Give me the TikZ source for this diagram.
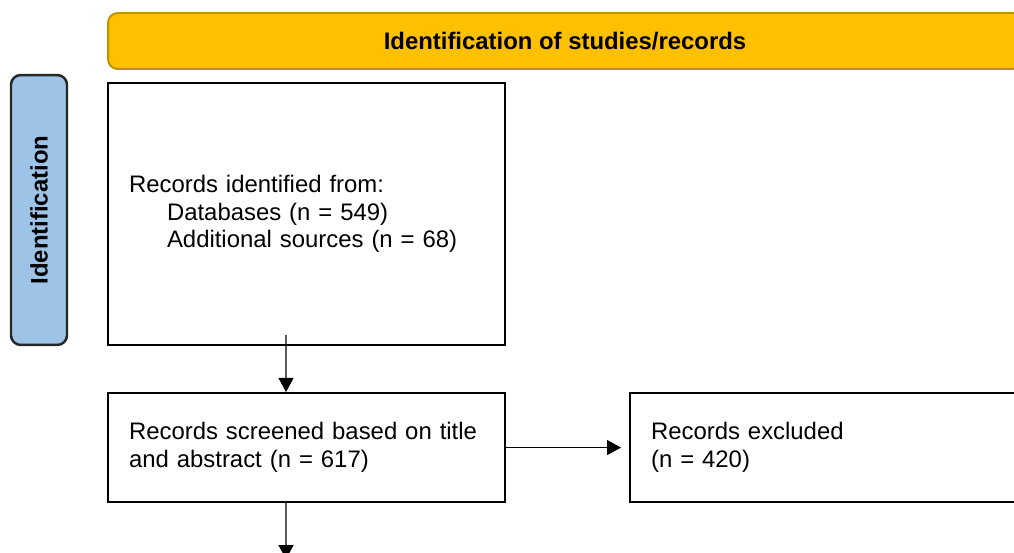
\documentclass[tikz,border=0pt]{standalone}
\usepackage{fontspec}
\setmainfont{Liberation Sans}
\usepackage{tikz}
\usetikzlibrary{arrows.meta, positioning}
\definecolor{prismagold}{RGB}{255, 192, 0}
\definecolor{prismagoldline}{RGB}{191, 144, 0}
\definecolor{prismablue}{RGB}{157, 195, 230}
\newcommand{\prismafont}{\fontsize{13.6}{15.7}\selectfont}

\begin{document}
\begin{tikzpicture}[x=0.02cm, y=-0.02cm,
    box/.style={rectangle, draw=black, line width=1.2pt, fill=white, align=left,
                inner xsep=0.42cm, font=\prismafont},
    header/.style={rectangle, rounded corners=5.5pt, draw=prismagoldline, line width=1.1pt,
                   fill=prismagold, font=\prismafont\bfseries},
    phase/.style={rectangle, rounded corners=5.5pt, draw=black!85, line width=1.4pt,
                  fill=prismablue, font=\prismafont\bfseries, rotate=90},
    arrow/.style={-{Triangle[width=8.5pt, length=8pt]}, line width=0.75pt, black}
]
\path[use as bounding box, clip] (0,0) rectangle (1014,553);

\node (idbar) [header, minimum width=18.28cm, minimum height=1.12cm] at (565,41)
    {Identification of studies/records};
\node (idside) [phase, minimum width=5.4cm, minimum height=1.12cm] at (39,210)
    {Identification};

\node (rec) [box, anchor=north west, text width=7.1cm, minimum height=5.24cm] at (107,82)
    {Records identified from:\\
     \hspace*{0.76cm}Databases (n = 549)\\
     \hspace*{0.76cm}Additional sources (n = 68)};
\node (screen) [box, below=0.92cm of rec, text width=7.1cm, minimum height=2.18cm]
    {Records screened based on title\\and abstract (n = 617)};
\node (excl) [box, right=2.46cm of screen, text width=7.96cm, minimum height=2.18cm]
    {Records excluded\\(n = 420)};
\coordinate (next) at ([shift={(-20.5,56)}]screen.south);

\draw [arrow] ([shift={(-20.5,-11)}]rec.south) -- ([xshift=-0.41cm]screen.north);
\draw [arrow, shorten >=4.5pt] (screen.east) -- (excl.west);
\draw [arrow] ([xshift=-0.41cm]screen.south) -- (next);
\end{tikzpicture}
\end{document}
